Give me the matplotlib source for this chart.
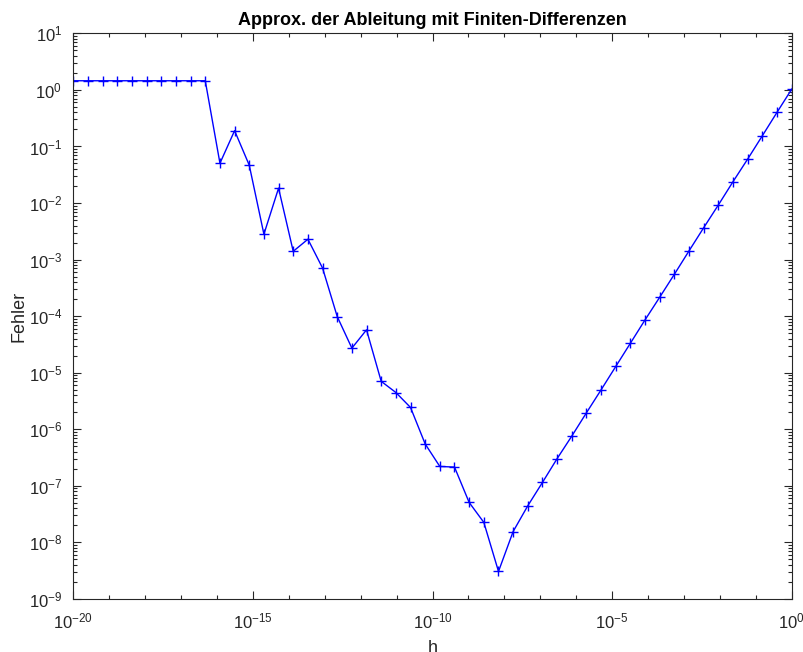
import matplotlib
matplotlib.use("Agg")
import matplotlib.pyplot as plt
from matplotlib.ticker import LogLocator, NullFormatter, FixedLocator

plt.rcParams['font.family'] = ['Liberation Sans', 'DejaVu Sans']
plt.rcParams['mathtext.fontset'] = 'custom'
plt.rcParams['mathtext.rm'] = 'Liberation Sans'
plt.rcParams['mathtext.default'] = 'regular'

title = "Approx. der Ableitung mit Finiten-Differenzen"
xlabel = "h"
ylabel = "Fehler"

# step sizes h = 10**exponent
h_exp = [-20.000, -19.592, -19.184, -18.776, -18.367, -17.959, -17.551, -17.143,
         -16.735, -16.327, -15.918, -15.510, -15.102, -14.694, -14.286, -13.878,
         -13.469, -13.061, -12.653, -12.245, -11.837, -11.429, -11.020, -10.612,
         -10.204, -9.796, -9.388, -8.980, -8.571, -8.163, -7.755, -7.347,
         -6.939, -6.531, -6.122, -5.714, -5.306, -4.898, -4.490, -4.082,
         -3.673, -3.265, -2.857, -2.449, -2.041, -1.633, -1.224, -0.816,
         -0.408, 0.000]

fehler = [1.45, 1.45, 1.45, 1.45, 1.45, 1.45, 1.45, 1.45, 1.45, 1.45,
          0.0505, 0.190, 0.0466, 0.00281, 0.0183, 0.00140, 0.00229, 7.08e-4,
          9.84e-5, 2.72e-5, 5.73e-5, 7.05e-6, 4.47e-6, 2.43e-6, 5.50e-7,
          2.20e-7, 2.15e-7, 5.09e-8, 2.26e-8, 3.07e-9, 1.56e-8, 4.45e-8,
          1.15e-7, 3.03e-7, 7.59e-7, 1.96e-6, 4.99e-6, 1.29e-5, 3.33e-5,
          8.61e-5, 2.17e-4, 5.52e-4, 1.43e-3, 3.67e-3, 9.25e-3, 0.0239,
          0.0601, 0.155, 0.402, 1.03]

h = [10.0 ** e for e in h_exp]

axc = '#262626'
fig = plt.figure(figsize=(8.04, 6.52), dpi=100)
ax = fig.add_axes([0.0912, 0.0813, 0.8935, 0.8676])
ax.loglog(h, fehler, color='blue', lw=1.0, marker='+', ms=7, mew=1.0)

ax.set_xlim(1e-20, 1e0)
ax.set_ylim(1e-9, 1e1)
ax.xaxis.set_major_locator(FixedLocator([1e-20, 1e-15, 1e-10, 1e-5, 1e0]))
ax.xaxis.set_minor_locator(FixedLocator([10.0 ** k for k in range(-20, 1)]))
ax.xaxis.set_minor_formatter(NullFormatter())
ax.yaxis.set_major_locator(LogLocator(base=10, numticks=20))
ax.yaxis.set_minor_locator(LogLocator(base=10, subs=range(2, 10), numticks=20))
ax.yaxis.set_minor_formatter(NullFormatter())

ax.tick_params(which='both', direction='in', top=True, right=True, colors=axc,
               labelcolor=axc, labelsize=12, width=0.8)
ax.tick_params(which='major', length=5.5)
ax.tick_params(which='minor', length=3)
ax.tick_params(axis='x', which='major', pad=9)
ax.tick_params(axis='y', which='major', pad=8)
for s in ax.spines.values():
    s.set_color(axc)
    s.set_linewidth(0.8)

ax.set_title(title, fontsize=13, fontweight='bold', color='black', pad=6)
ax.set_xlabel(xlabel, fontsize=13, color=axc, labelpad=6)
ax.set_ylabel(ylabel, fontsize=13, color=axc, labelpad=0.5)

fig.savefig("out.png", dpi=100)
